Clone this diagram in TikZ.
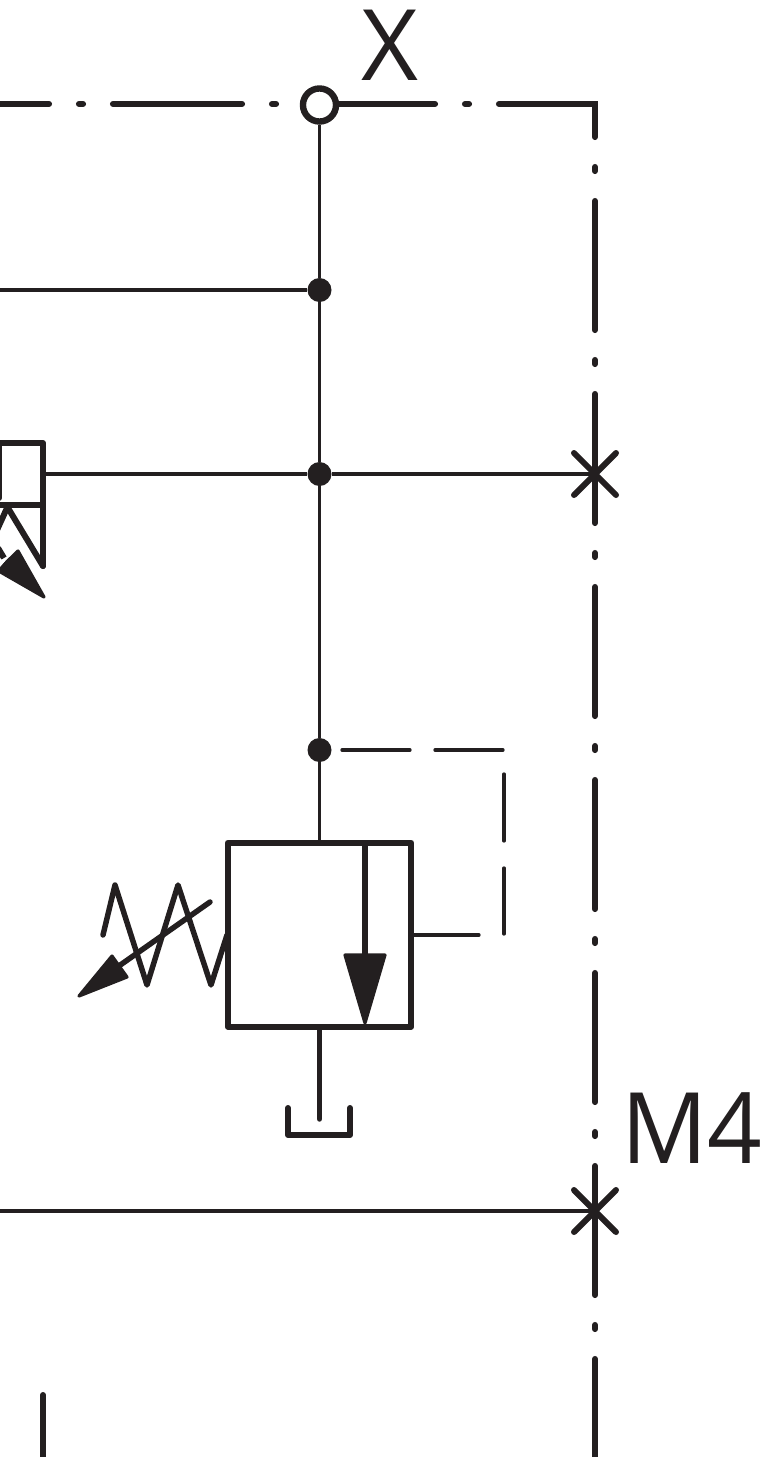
\documentclass[tikz,border=0pt]{standalone}
\usepackage{fontspec}
\setmainfont{Open Sans}
\definecolor{ink}{HTML}{231F20}
\tikzset{
  thickline/.style={draw=ink,line width=4.5pt,line cap=round,line join=round},
  midline/.style={draw=ink,line width=4.1pt,line cap=round,line join=round},
  thinline/.style={draw=ink,line width=2.6pt,line cap=butt},
  dashline/.style={draw=ink,line width=2.5pt,line cap=round},
  border/.style={draw=ink,line width=4.6pt,line cap=round,line join=miter,
    dash pattern=on 96.75pt off 22.5pt on 3pt off 22.5pt,dash phase=23.25pt},
  junction/.style={circle,fill=ink,inner sep=0pt,minimum size=18pt},
  port/.style={circle,draw=ink,fill=white,line width=4.8pt,inner sep=0pt,minimum size=24.8pt},
  head/.style={fill=ink,draw=ink,line width=2.4pt,line join=round},
  label/.style={text=ink,font=\fontsize{74}{74}\selectfont,inner sep=0pt,anchor=base},
  valvebox/.style={draw=ink,line width=4.5pt,line join=round,inner sep=0pt,
    minimum width=137.5pt,minimum height=138pt}
}
\begin{document}
\begin{tikzpicture}[x=0.75pt,y=-0.75pt]
\useasboundingbox (0,0) rectangle (763,1457);
\clip (0,0) rectangle (763,1457);
% free ends and corners
\coordinate (bstart) at (595,1457);
\coordinate (bcorner) at (595,104);
\coordinate (bend) at (0,104);
\coordinate (c1) at (595,474);
\coordinate (c2) at (595,1211);
\coordinate (l1) at (0,290);
\coordinate (l3) at (0,1211);
\coordinate (frag) at (43,474);
% frame
\draw[border] (bstart) -- (bcorner) -- (bend);
% valve
\node[valvebox] (valve) at (319.5,934.7) {};
\node[port] (x) at (319.5,105) {};
\node[junction] (j1) at (319.5,290) {};
\node[junction] (j2) at (319.5,474) {};
\node[junction] (j3) at (319.5,750) {};
% main lines
\draw[thinline] (x.south) -- (j1);
\draw[thinline] (j1) -- (j2);
\draw[thinline] (j2) -- (j3);
\draw[thinline] (j3) -- (valve.north);
\draw[thinline] (l1) -- (j1);
\draw[thinline] (frag) -- (j2);
\draw[thinline] (j2) -- (c1);
\draw[thinline] (l3) -- (c2);
% crosses
\draw[thickline] (574,453) -- (616,495) (616,453) -- (574,495);
\draw[thickline] (574,1190) -- (616,1232) (616,1190) -- (574,1232);
% pilot line
\coordinate (p1) at (342,750); \coordinate (p2) at (410,750);
\coordinate (p3) at (435,750); \coordinate (p4) at (503,750);
\coordinate (p5) at (504,774); \coordinate (p6) at (504,841);
\coordinate (p7) at (504,868); \coordinate (p8) at (504,934);
\coordinate (p9) at (479,935);
\draw[dashline] (p1) -- (p2);
\draw[dashline] (p3) -- (p4);
\draw[dashline] (p5) -- (p6);
\draw[dashline] (p7) -- (p8);
\draw[dashline] (valve.east |- p9) -- (p9);
% flow arrow
\coordinate (fa) at (365,843); \coordinate (fb) at (365,955);
\draw[thickline,line cap=butt] (fa) -- (fb);
\draw[head] (345,955) -- (385,955) -- (365,1023) -- cycle;
% tank
\coordinate (t0) at (319.5,1119);
\draw[midline] (valve.south) -- (t0);
\draw[thickline] (288,1108) -- (288,1135) -- (350,1135) -- (350,1108);
% spring
\draw[midline] (103,935) -- (115,885) -- (147,985) -- (178,885) -- (211,985) -- (227,935);
% adjust arrow
\draw[midline,line cap=round] (210,902) -- (116,968);
\draw[head] (79,996) -- (112,956) -- (127,977) -- cycle;
% left fragment
\draw[thickline,line cap=butt] (-5,443) -- (43,443);
\draw[thickline] (43,443) -- (43,566);
\draw[thickline,line cap=butt] (-5,505) -- (43,505);
\draw[thickline] (8,508) -- (43,566);
\draw[thickline,line cap=butt] (7,508) -- (-3,530);
\draw[thickline] (-1,443) -- (-1,498);
\draw[thickline,line cap=butt] (-2,548) -- (4,558);
\draw[head] (44,597) -- (18,551) -- (-12,580) -- (-10,566) -- cycle;
\fill[white] (-2,558) -- (5,561) -- (0,567) -- cycle;
% bottom stub
\coordinate (s1) at (43,1395); \coordinate (s2) at (43,1465);
\draw[thickline] (s1) -- (s2);
% labels
\node[label] (lx) at (390,80) {X};
\node[label,anchor=base west] (lm) at (621,1163) {\scalebox{0.97}[1]{M4}};
\end{tikzpicture}
\end{document}
